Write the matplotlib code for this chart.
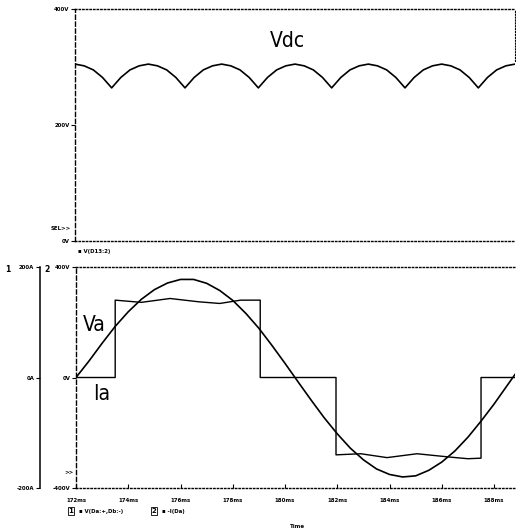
import numpy as np
import matplotlib
matplotlib.use("Agg")
import matplotlib.pyplot as plt

# Vdc (top panel), six-pulse ripple
vdc_t = [172.0, 172.35, 172.7, 173.05, 173.4, 173.75, 174.1, 174.45, 174.8,
         175.15, 175.5, 175.85, 176.2, 176.55, 176.9, 177.25, 177.6,
         177.95, 178.3, 178.65, 179.0, 179.35, 179.7, 180.05, 180.4,
         180.75, 181.1, 181.45, 181.8, 182.15, 182.5, 182.85, 183.2,
         183.55, 183.9, 184.25, 184.6, 184.95, 185.3, 185.65, 186.0,
         186.35, 186.7, 187.05, 187.4, 187.75, 188.1, 188.45, 188.8]
vdc = [305, 302, 295, 282, 264, 282, 295, 302, 305,
       302, 295, 282, 264, 282, 295, 302, 305,
       302, 295, 282, 264, 282, 295, 302, 305,
       302, 295, 282, 264, 282, 295, 302, 305,
       302, 295, 282, 264, 282, 295, 302, 305,
       302, 295, 282, 264, 282, 295, 302, 305]

# Va (bottom panel, volts axis)
va_t = [172.0, 172.5, 173.0, 173.5, 174.0, 174.5, 175.0, 175.5, 176.0, 176.5,
        177.0, 177.5, 178.0, 178.5, 179.0, 179.5, 180.0, 180.5, 181.0, 181.5,
        182.0, 182.5, 183.0, 183.5, 184.0, 184.5, 185.0, 185.5, 186.0, 186.5,
        187.0, 187.5, 188.0, 188.5, 188.8]
va = [0, 60, 124, 185, 238, 283, 318, 342, 355, 355,
      341, 315, 279, 232, 178, 116, 51, -16, -82, -146,
      -204, -256, -298, -331, -351, -360, -356, -336, -306, -266,
      -216, -158, -96, -29, 11]

# Ia (bottom panel, amps axis), quasi square wave
ia_t = [172.0, 173.5, 173.5, 174.5, 175.6, 176.7, 177.5, 178.3, 179.05, 179.05,
        181.95, 181.95, 182.9, 183.9, 185.05, 186.3, 187.0, 187.5, 187.5, 188.8]
ia = [0, 0, 140, 136, 143, 137, 134, 140, 140, 0,
      0, -140, -138, -145, -138, -144, -147, -146, 0, 0]

x_ticks = [172, 174, 176, 178, 180, 182, 184, 186, 188]
x_labels = ["172ms", "174ms", "176ms", "178ms", "180ms", "182ms", "184ms", "186ms", "188ms"]

W, H = 516, 530
fig = plt.figure(figsize=(W / 100, H / 100), dpi=100)
fig.patch.set_facecolor("white")

def rect(l, t, r, b):
    return [l / W, 1 - b / H, (r - l) / W, (b - t) / H]

def ftext(x, y, s, **kw):
    fig.text(x / W, 1 - y / H, s, **kw)

dots = (0, (1.0, 1.6))
dash = (0, (3, 2))
small = dict(fontsize=4.3, fontweight="bold", family="DejaVu Sans", fontstretch="condensed")
big = dict(fontsize=15, family="DejaVu Sans", fontstretch="condensed")

# ---- top panel
ax1 = fig.add_axes(rect(75, 9, 515, 241))
ax1.plot(vdc_t, vdc, color="black", lw=1.2)
ax1.set_xlim(172, 188.8)
ax1.set_ylim(0, 400)
ax1.set_yticks([0, 200, 400])
ax1.set_yticklabels(["0V", "200V", "400V"], **small)
ax1.set_xticks([])
ax1.tick_params(axis="y", direction="out", length=3, width=0.8, pad=1)
for s in ["top", "bottom"]:
    ax1.spines[s].set_linestyle(dots)
    ax1.spines[s].set_linewidth(1.0)
ax1.spines["left"].set_linestyle(dash)
ax1.spines["left"].set_linewidth(1.0)
ax1.spines["right"].set_linestyle(dots)
ax1.spines["right"].set_linewidth(0.8)
ax1.spines["right"].set_bounds(310, 400)
ax1.text(180.1, 345, "Vdc", ha="center", va="center", **big)

# ---- bottom panel, volts axis
ax2 = fig.add_axes(rect(76, 267, 515, 488))
ax2.plot(va_t, va, color="black", lw=1.2)
ax2.set_xlim(172, 188.8)
ax2.set_ylim(-400, 400)
ax2.set_yticks([-400, 0, 400])
ax2.set_yticklabels(["-400V", "0V", "400V"], **small)
ax2.set_xticks(x_ticks)
ax2.set_xticklabels(x_labels, **small)
ax2.tick_params(axis="y", direction="out", length=3, width=0.8, pad=1)
ax2.tick_params(axis="x", direction="in", length=3, width=0.8, pad=7)
for s in ["top", "bottom"]:
    ax2.spines[s].set_linestyle(dots)
    ax2.spines[s].set_linewidth(1.0)
ax2.spines["left"].set_linestyle(dash)
ax2.spines["left"].set_linewidth(1.0)
ax2.spines["right"].set_visible(False)
ax2.text(172.7, 190, "Va", ha="center", va="center", **big)
ax2.text(173.0, -60, "Ia", ha="center", va="center", **big)

# ---- bottom panel, amps axis
ax3 = ax2.twinx()
ax3.plot(ia_t, ia, color="black", lw=1.0)
ax3.set_ylim(-200, 200)
ax3.yaxis.set_ticks_position("left")
ax3.yaxis.set_label_position("left")
ax3.spines["left"].set_visible(True)
ax3.spines["left"].set_position(("outward", 26))
ax3.spines["left"].set_linewidth(1.1)
for s in ["top", "bottom", "right"]:
    ax3.spines[s].set_visible(False)
ax3.set_yticks([-200, 0, 200])
ax3.set_yticklabels(["-200A", "0A", "200A"], **small)
ax3.tick_params(axis="y", direction="out", length=3, width=0.8, pad=1)

# ---- loose texts
ftext(61, 229, "SEL>>", ha="center", va="center", **small)
ftext(69, 473, ">>", ha="center", va="center", **small)
ftext(8, 270, "1", ha="center", va="center", fontsize=5.5, fontweight="bold")
ftext(47, 270, "2", ha="center", va="center", fontsize=5.5, fontweight="bold")
ftext(78, 252, "\u25aa V(D13:2)", ha="left", va="center", **small)
ftext(71, 511, "1", ha="center", va="center", fontsize=5, fontweight="bold",
      bbox=dict(boxstyle="square,pad=0.15", fc="white", ec="black", lw=0.6))
ftext(79, 511, "\u25aa V(Da:+,Db:-)", ha="left", va="center", **small)
ftext(154, 511, "2", ha="center", va="center", fontsize=5, fontweight="bold",
      bbox=dict(boxstyle="square,pad=0.15", fc="white", ec="black", lw=0.6))
ftext(162, 511, "\u25aa -I(Da)", ha="left", va="center", **small)
ftext(298, 526, "Time", ha="center", va="center", **small)

fig.savefig("out.png", dpi=100, facecolor="white")
